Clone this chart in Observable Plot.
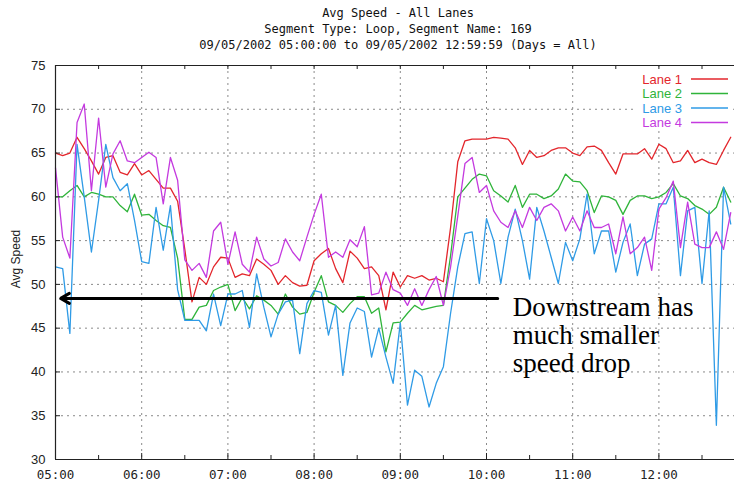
<!DOCTYPE html>
<html><head><meta charset="utf-8">
<script src="https://cdn.jsdelivr.net/npm/d3@7"></script>
<script src="https://cdn.jsdelivr.net/npm/@observablehq/plot@0.6"></script>
<style>body{margin:0;background:#fff} #chart{width:734px;height:486px}</style>
</head><body><div id="chart"></div>
<script>
const titleLines = ["Avg Speed - All Lanes", "Segment Type: Loop, Segment Name: 169", "09/05/2002 05:00:00 to 09/05/2002 12:59:59 (Days = All)"];
const yAxisLabel = "Avg Speed";
const laneNames = ["Lane 1", "Lane 2", "Lane 3", "Lane 4"];
const laneColors = ["#e3262c", "#2fb43a", "#2f9be6", "#c43adf"];
const startHour = 5;
const stepMinutes = 5;
const lane1 = [65,64.7,65,66.8,65.5,64.1,62.6,64.5,64.7,62.8,62.5,63.8,62.5,63,62,61,61,59.5,54,48,50.8,50,52,53.1,53,50.8,51.2,51,52.9,52.3,51.6,50,51,50.2,49.8,49.9,52.7,53.5,54.1,51.8,50.2,53.8,53,51.8,52,51,47.1,51.4,49.7,51,50.7,51,50.5,50.7,50.3,56.5,64,66.4,66.6,66.6,66.6,66.8,66.7,66.6,65.6,63.7,65.3,64.5,64.7,65.3,65.6,65.6,65,64.7,65.7,65.8,65.3,63.9,62.6,64.9,64.9,64.9,65.5,64.3,66,65.5,63.9,64.1,65.3,63.9,64.3,63.9,63.7,65.3,66.8];
const lane2 = [60,60,60.7,61.3,60,60.5,60.3,60,60,59,58.3,60.3,57.9,58,57.3,56.7,56.5,53,46,46,47.4,47.6,49.3,49.7,50,47,48.5,47.2,48.7,48.2,47.6,46.6,48.9,47.4,46.6,46.8,49.1,51,48,47.6,46.8,47.8,48.6,48.6,46.7,47.3,42.3,45.6,45.7,46.7,47.6,47.1,47.3,47.5,47.6,53.3,60,61,62,62.6,62.4,60.7,60.1,59.4,61.3,58.8,60.3,60.3,59.8,60.1,60.9,62.6,61.8,61.7,60.7,58.2,60.1,60,59.6,58,59.6,60.1,60.1,59.8,60,60.5,61.5,60.1,59.8,59,58.6,58,58.8,61.1,59.4];
const lane3 = [52,51.8,44.4,66,60,53.7,59.6,66,62.2,60.7,61.5,57.3,52.6,52.4,58.8,53.9,59,49.4,45.9,45.9,45.9,44.7,48.9,45.3,48.9,48.9,49.3,45.1,51.2,47.4,44,46.6,48,48.2,42.1,47.8,49.3,49.1,44.2,47.6,39.6,45.6,47.3,46.9,41.7,45,41.7,38.7,45.6,36.2,40.2,39.5,36,38.7,40.6,46.7,52,55.8,56,50.1,57.5,55,50.1,55.4,58.6,55,50.6,58.8,56.1,53.1,50.1,54.8,52.7,55.2,60.3,53.5,56.1,56.1,51.4,54.8,56.9,51,54.6,55.2,59.2,59.2,61.1,51,58.4,58.8,50.1,58.4,33.9,61.1,56.9];
const lane4 = [63.3,55.4,53,68.5,70.6,60.7,69,61.1,64.9,66.4,64.1,63.9,64.5,65.1,64.5,59.2,64.5,61.9,52.8,51.6,52.4,50.8,56.1,57.1,52.3,56,52.3,51.4,55.4,52.9,52.1,52.5,55.2,53.7,52.7,55.4,58,60.3,53.1,53.7,53.1,55.1,54.3,56.6,48.8,49,51.4,49.4,49,47.6,49.5,47.6,49.4,50.9,47.6,52,57.8,63.8,64.5,60.5,61.3,58.4,57.1,56.5,58.4,56.5,58.8,57.3,58.8,59.2,58.4,56.1,57.7,56.1,58.4,56.5,56.5,56.9,53.5,57.7,53.5,54.2,55.4,51.6,58.6,59.9,61.8,54.2,59.4,54.6,54.2,54.2,56,54,58.2];
const xTickHours = [5, 6, 7, 8, 9, 10, 11, 12];
const xTickLabels = ["05:00", "06:00", "07:00", "08:00", "09:00", "10:00", "11:00", "12:00"];
const halfHourTicks = [5.5, 6.5, 7.5, 8.5, 9.5, 10.5, 11.5, 12.5];
const yTicks = [30, 35, 40, 45, 50, 55, 60, 65, 70, 75];
const xDomain = [5, 12.877];
const yDomain = [30, 75];
const arrowStart = 10.13, arrowEnd = 5.06, arrowSpeed = 48.4;
const noteLines = ["Downstream has", "much smaller", "speed drop"];
const noteHour = 10.31, noteSpeed = 48.5;

const rows = [];
[lane1, lane2, lane3, lane4].forEach((vals, k) =>
  vals.forEach((v, i) => rows.push({lane: laneNames[k], t: startHour + i * stepMinutes / 60, v})));

const NS = "http://www.w3.org/2000/svg";
function el(name, attrs, text) {
  const e = document.createElementNS(NS, name);
  for (const k in attrs) e.setAttribute(k, attrs[k]);
  if (text != null) e.textContent = text;
  return e;
}
function legendMark(index, scales, values, dims) {
  const g = el("g", {});
  const right = dims.width - dims.marginRight;
  g.appendChild(el("rect", {x: right - 100, y: dims.marginTop + 5, width: 98, height: 60, fill: "#fff"}));
  laneNames.forEach((name, k) => {
    const y = dims.marginTop + 14 + 14.5 * k;
    g.appendChild(el("text", {x: right - 52, y: y + 4.5, "text-anchor": "end", fill: laneColors[k],
      "font-family": "Liberation Sans, Arial, sans-serif", "font-size": 13}, name));
    g.appendChild(el("line", {x1: right - 43, x2: right - 6, y1: y, y2: y, stroke: laneColors[k], "stroke-width": 1.4}));
  });
  return g;
}
function yLabelMark(index, scales, values, dims) {
  const cy = scales.y(52.5) - 3;
  return el("text", {transform: `translate(20,${cy}) rotate(-90)`, "text-anchor": "middle",
    "font-family": "Liberation Sans, Arial, sans-serif", "font-size": 12, fill: "#222"}, yAxisLabel);
}
function noteMark(index, scales, values, dims) {
  const x0 = scales.x(noteHour), y0 = scales.y(noteSpeed);
  const t = el("text", {transform: `translate(${x0},${y0})`, "text-anchor": "start",
    "font-family": "Liberation Serif, Times New Roman, serif", "font-size": 27, fill: "#000"});
  noteLines.forEach((line, i) => {
    const ts = el("tspan", {x: 0, y: 19 + 28 * i}, line);
    t.appendChild(ts);
  });
  return t;
}

const chart = Plot.plot({
  width: 734, height: 486,
  marginTop: 65, marginBottom: 27, marginLeft: 55, marginRight: 0,
  x: {domain: xDomain},
  y: {domain: yDomain},
  color: {domain: laneNames, range: laneColors},
  style: {background: "#fff", overflow: "visible"},
  marks: [
    Plot.ruleY(yTicks.filter(d => d > yDomain[0] && d < yDomain[1]), {stroke: "#8a8a8a", strokeDasharray: "2,4", strokeWidth: 1}),
    Plot.ruleX(xTickHours.filter(d => d > xDomain[0]), {stroke: "#8a8a8a", strokeDasharray: "2,4", strokeWidth: 1}),
    Plot.line(rows, {x: "t", y: "v", z: "lane", stroke: "lane", strokeWidth: 1.3}),
    Plot.ruleX([xDomain[0]], {stroke: "#222", strokeWidth: 1.2}),
    Plot.ruleY([yDomain[0], yDomain[1]], {stroke: "#222", strokeWidth: 1.2}),
    Plot.ruleX(xTickHours, {stroke: "#222", insetTop: 388}),
    Plot.ruleX(halfHourTicks, {stroke: "#222", insetTop: 390}),
    Plot.ruleX(xTickHours.concat(halfHourTicks), {stroke: "#222", insetBottom: 390}),
    Plot.ruleY(yTicks, {stroke: "#222", insetRight: 674}),
    Plot.axisX({ticks: xTickHours, tickSize: 0, tickPadding: 11, label: null,
      tickFormat: d => xTickLabels[xTickHours.indexOf(d)],
      fontFamily: "DejaVu Sans Mono, monospace", fontSize: 12.5, fill: "#222"}),
    Plot.axisY({ticks: yTicks, tickSize: 0, tickPadding: 10, label: null,
      fontFamily: "Liberation Sans, Arial, sans-serif", fontSize: 13, fill: "#222"}),
    yLabelMark,
    Plot.text([titleLines.join("\n")], {frameAnchor: "top", lineAnchor: "top", dx: 3, dy: -60, lineHeight: 1.33,
      fontFamily: "DejaVu Sans Mono, monospace", fontSize: 12, fill: "#111"}),
    Plot.arrow([{x1: arrowStart, x2: arrowEnd, y: arrowSpeed}], {x1: "x1", x2: "x2", y1: "y", y2: "y",
      stroke: "#000", strokeWidth: 3, headLength: 5}),
    noteMark,
    legendMark
  ]
});
document.getElementById("chart").appendChild(chart);
</script>
</body></html>
